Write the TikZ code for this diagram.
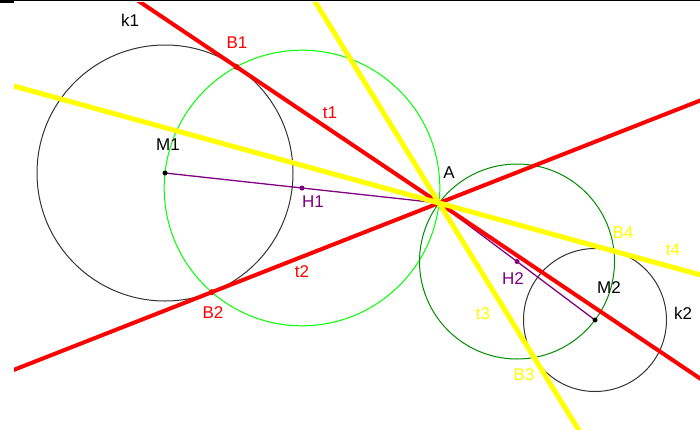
\documentclass[tikz,border=0pt]{standalone}
\usepackage{fontspec}
\setmainfont{Liberation Sans}
\usetikzlibrary{calc}

\definecolor{lgreen}{RGB}{0,255,0}
\definecolor{dgreen}{RGB}{0,140,0}
\definecolor{hcol}{RGB}{128,0,128}
\definecolor{tyellow}{RGB}{255,255,0}

\begin{document}
\begin{tikzpicture}[x=1pt, y=-1pt, font=\fontsize{17}{20}\selectfont]
\useasboundingbox (0,0) rectangle (700,429);

% frame top
\draw[line width=1pt] (0,0.5) -- (700,0.5);
\fill (0,0) rectangle (14,2.5);

\coordinate (A) at (439,203);
\coordinate (M1) at (165,173);
\coordinate (M2) at (595,320);
\coordinate (H1) at ($(A)!0.5!(M1)$);
\coordinate (H2) at ($(A)!0.5!(M2)$);
\coordinate (B1) at (236.4,66.8);
\coordinate (B2) at (211.7,292.2);
\coordinate (B3) at (534.1,357.5);
\coordinate (B4) at (613.9,251.1);

% circles
\draw[line width=1pt, black!80] (M1) circle (128);
\draw[line width=1pt, black!80] (M2) circle (71.5);
\draw[line width=1pt, lgreen] (H1) circle (137.8);
\draw[line width=1pt, dgreen] (H2) circle (97.5);

\draw[line width=1.3pt, hcol] (M1) -- (A);
\draw[line width=1.3pt, hcol] (M2) -- (A);

% tangents
\begin{scope}
\clip (14,2) rectangle (700,429);
\draw[red, line width=4pt] ($(A)!-4!(B1)$) -- ($(A)!4!(B1)$);
\draw[red, line width=4pt] ($(A)!-4!(B2)$) -- ($(A)!4!(B2)$);
\draw[tyellow, line width=5pt] ($(A)!-4!(B3)$) -- ($(A)!4!(B3)$);
\draw[tyellow, line width=5pt] ($(A)!-4!(B4)$) -- ($(A)!4!(B4)$);
\end{scope}

% points
\fill (M1) circle (2.5);
\fill (M2) circle (2.5);
\fill[hcol] (H1) circle (2.5);
\fill[hcol] (H2) circle (2.5);
\fill[red] (B1) circle (3);
\fill[red] (B2) circle (3);
\fill[tyellow] (B3) circle (3);
\fill[tyellow] (B4) circle (3);

% labels
\node (lk1) at (130,20) {k1};
\node[red] (lB1) at (237,43) {B1};
\node[red] (lt1) at (330,113) {t1};
\node (lM1) at (168,145) {M1};
\node[hcol] (lH1) at (313,202) {H1};
\node (lA) at (449,173) {A};
\node[red] (lt2) at (302,272) {t2};
\node[red] (lB2) at (213,313) {B2};
\node[tyellow] (lB4) at (623,233) {B4};
\node[tyellow] (lt4) at (673,250) {t4};
\node[hcol] (lH2) at (513,279) {H2};
\node (lM2) at (609,288) {M2};
\node (lk2) at (683,313) {k2};
\node[tyellow] (lt3) at (483,314) {t3};
\node[tyellow] (lB3) at (524,375) {B3};
\end{tikzpicture}
\end{document}
